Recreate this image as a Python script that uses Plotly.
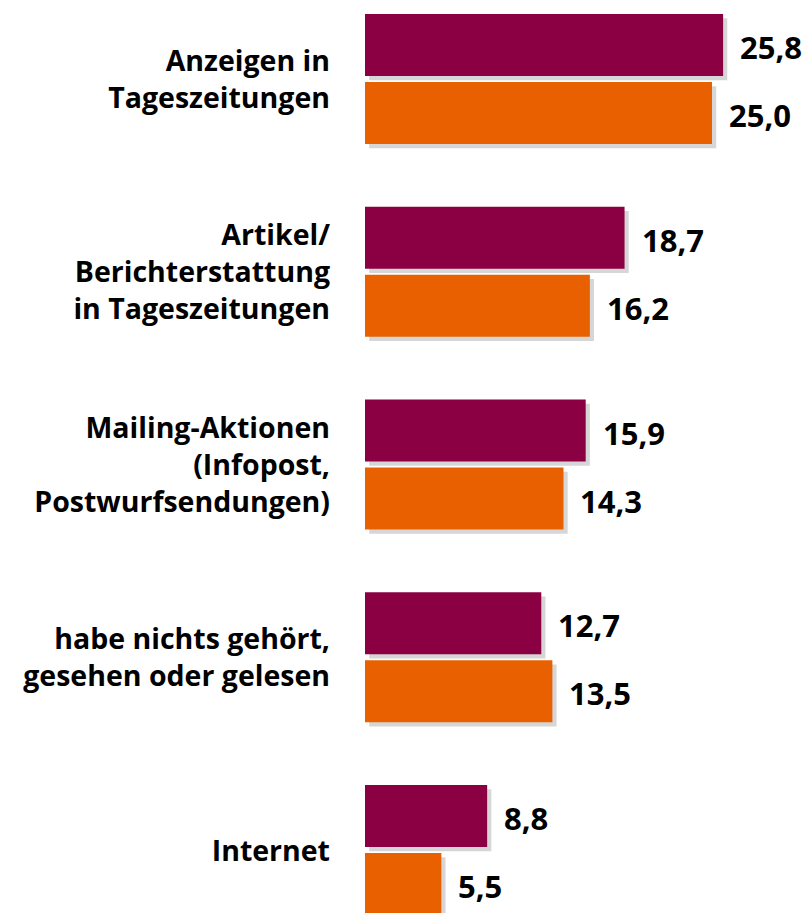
import plotly.graph_objects as go

categories = [
    "Anzeigen in<br>Tageszeitungen",
    "Artikel/<br>Berichterstattung<br>in Tageszeitungen",
    "Mailing-Aktionen<br>(Infopost,<br>Postwurfsendungen)",
    "habe nichts gehört,<br>gesehen oder gelesen",
    "Internet",
]
series_a = [25.8, 18.7, 15.9, 12.7, 8.8]   # purple
series_b = [25.0, 16.2, 14.3, 13.5, 5.5]   # orange

PURPLE = "#8A0042"
ORANGE = "#E86000"
SHADOW = "rgba(90,90,90,0.25)"
FONT = "Open Sans"

idx = list(range(len(categories)))
W = 0.3217
OFF_A = -0.340
OFF_B = 0.013
SH_Y = 0.022   # vertical shadow shift (units)
SH_X = 0.30    # horizontal shadow shift (value units)

fig = go.Figure()
for vals, off in ((series_a, OFF_A), (series_b, OFF_B)):
    fig.add_trace(go.Bar(
        y=idx, x=vals, base=[SH_X] * len(vals), orientation="h",
        offset=off + SH_Y, width=W, marker=dict(color=SHADOW, line=dict(width=0)),
        hoverinfo="skip", showlegend=False))
for vals, off, col in ((series_a, OFF_A, PURPLE), (series_b, OFF_B, ORANGE)):
    fig.add_trace(go.Bar(
        y=idx, x=vals, orientation="h", offset=off, width=W,
        marker=dict(color=col, line=dict(width=0)), showlegend=False))

annotations = []
for i in idx:
    for vals, off in ((series_a, OFF_A), (series_b, OFF_B)):
        annotations.append(dict(
            x=vals[i], y=i + off + W / 2, xref="x", yref="y",
            text=f"{vals[i]:.1f}".replace(".", ","), showarrow=False,
            xanchor="left", yanchor="middle", xshift=15, yshift=-2,
            font=dict(family=FONT, size=31, color="black", weight="bold")))

fig.update_layout(
    width=805, height=913,
    margin=dict(l=365, r=0, t=0, b=0),
    paper_bgcolor="white", plot_bgcolor="white",
    barmode="overlay",
    annotations=annotations,
    xaxis=dict(range=[0, 31.7], visible=False, fixedrange=True),
    yaxis=dict(
        tickmode="array", tickvals=idx, ticktext=categories,
        range=[4.324, -0.4125], showgrid=False, zeroline=False, showline=False,
        ticks="", ticklabelstandoff=34,
        tickfont=dict(family=FONT, size=28.5, color="black", weight="bold")),
    font=dict(family=FONT),
)

fig.write_html("out.html", config={"displayModeBar": False},
               post_script="document.body.style.margin='0';")
